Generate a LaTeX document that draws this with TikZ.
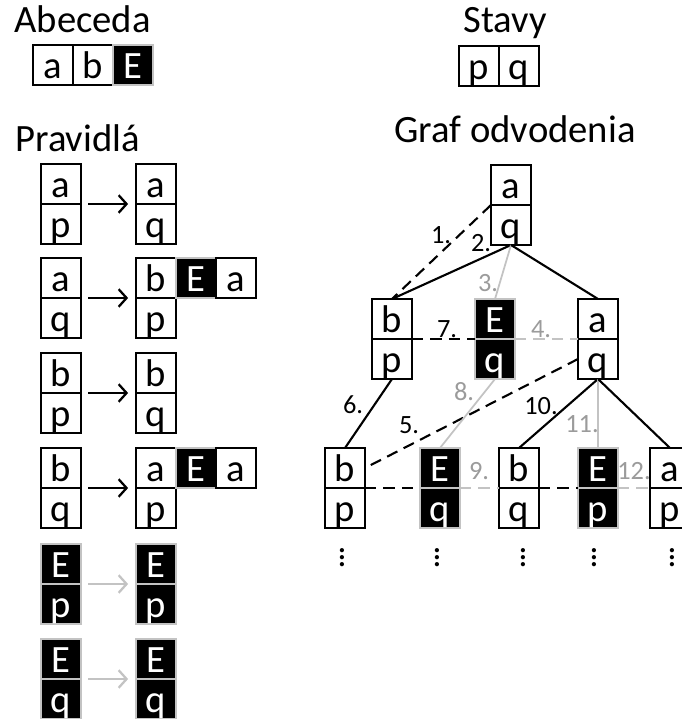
\documentclass[tikz,border=0pt]{standalone}
\usepackage{fontspec}
\setmainfont{Carlito}
\usepackage{tikz}
\usetikzlibrary{arrows,arrows.meta}

\definecolor{lgray}{RGB}{195,195,195}
\definecolor{tgray}{RGB}{155,155,155}

\begin{document}
\begin{tikzpicture}[x=0.02cm,y=-0.02cm]

  %Styles for picture
  \tikzset
  {
  cell/.style={draw, line width=1.2pt, fill=white, inner sep=0pt, outer sep=0pt, minimum width=0.8cm, text height=0.67cm, text depth=0.13cm, font=\fontsize{22}{26}\selectfont},
  ecell/.style={cell, draw=lgray, fill=black, text=white},
  heading/.style={inner sep=0pt, font=\fontsize{22}{26}\selectfont},
  nlabel/.style={inner sep=0pt, font=\fontsize{15}{17}\selectfont},
  glabel/.style={nlabel, text=tgray},
  rulearrow/.style={-{Straight Barb[length=4.5pt,width=10pt]}, line width=1.3pt, shorten <=4pt, shorten >=4.5pt},
  edge/.style={line width=1.2pt},
  grayedge/.style={line width=1pt, draw=lgray},
  dashedge/.style={line width=1.2pt, dash pattern=on 6.5pt off 4pt},
  }

  \useasboundingbox (0,0) rectangle (681,719);

  % Abeceda
  \node[heading, anchor=base west] (abc) at (14,33) {Abeceda};
  \node[cell] (ca) at (53,65) {a};
  \node[cell] (cb) at (93,65) {b};
  \node[ecell] (cE) at (133,65) {E};

  % Stavy
  \node[heading, anchor=base] (stavy) at (505,33) {Stavy};
  \node[cell] (sp) at (479,66) {p};
  \node[cell] (sq) at (519,66) {q};

  % Pravidla
  \node[heading, anchor=base west] (prav) at (15,152) {Pravidlá};

  \node[cell] (r1a) at (61,184) {a};
  \node[cell] (r1b) at (61,224) {p};
  \node[cell] (r1c) at (156,184) {a};
  \node[cell] (r1d) at (156,224) {q};
  \draw[rulearrow] (r1a.south east) -- (r1c.south west);

  \node[cell] (r2a) at (61,278) {a};
  \node[cell] (r2b) at (61,318) {q};
  \node[cell] (r2c) at (156,278) {b};
  \node[cell] (r2d) at (156,318) {p};
  \node[ecell] (r2e) at (196,278) {E};
  \node[cell] (r2f) at (236,278) {a};
  \draw[rulearrow] (r2a.south east) -- (r2c.south west);

  \node[cell] (r3a) at (61,373) {b};
  \node[cell] (r3b) at (61,413) {p};
  \node[cell] (r3c) at (156,373) {b};
  \node[cell] (r3d) at (156,413) {q};
  \draw[rulearrow] (r3a.south east) -- (r3c.south west);

  \node[cell] (r4a) at (61,468) {b};
  \node[cell] (r4b) at (61,508) {q};
  \node[cell] (r4c) at (156,468) {a};
  \node[cell] (r4d) at (156,508) {p};
  \node[ecell] (r4e) at (196,468) {E};
  \node[cell] (r4f) at (236,468) {a};
  \draw[rulearrow] (r4a.south east) -- (r4c.south west);

  \node[ecell] (r5a) at (61,564) {E};
  \node[ecell] (r5b) at (61,604) {p};
  \node[ecell] (r5c) at (156,564) {E};
  \node[ecell] (r5d) at (156,604) {p};
  \draw[rulearrow, lgray] (r5a.south east) -- (r5c.south west);

  \node[ecell] (r6a) at (61,659) {E};
  \node[ecell] (r6b) at (61,699) {q};
  \node[ecell] (r6c) at (156,659) {E};
  \node[ecell] (r6d) at (156,699) {q};
  \draw[rulearrow, lgray] (r6a.south east) -- (r6c.south west);

  % Graf odvodenia
  \node[heading, anchor=base] (graf) at (515,143) {Graf odvodenia};

  \node[cell] (g0t) at (511,185) {a};
  \node[cell] (g0b) at (511,225) {q};

  \node[cell] (g1t) at (392,319) {b};
  \node[cell] (g1b) at (392,359) {p};
  \node[ecell] (g2t) at (495,319) {E};
  \node[ecell] (g2b) at (495,359) {q};
  \node[cell] (g3t) at (598,319) {a};
  \node[cell] (g3b) at (598,359) {q};

  \node[cell] (h1t) at (345,468) {b};
  \node[cell] (h1b) at (345,508) {p};
  \node[ecell] (h2t) at (440,468) {E};
  \node[ecell] (h2b) at (440,508) {q};
  \node[cell] (h3t) at (519,468) {b};
  \node[cell] (h3b) at (519,508) {q};
  \node[ecell] (h4t) at (598,468) {E};
  \node[ecell] (h4b) at (598,508) {p};
  \node[cell] (h5t) at (670,468) {a};
  \node[cell] (h5b) at (670,508) {p};

  % Edges
  \draw[dashedge] (g0t.south west) -- (g1t.north);
  \draw[edge] (g0b.south) -- (g1t.north);
  \draw[grayedge] (g0b.south) -- (g2t.north);
  \draw[edge] (g0b.south) -- (g3t.north);
  \draw[dashedge] (g1t.south east) -- (g2t.south west);
  \draw[dashedge, lgray] (g2t.south east) -- (g3t.south west);
  \draw[dashedge] (g3b.west) -- (h1t.east);
  \draw[edge] (g1b.south) -- (h1t.north);
  \draw[grayedge] (g2b.south) -- (h2t.north);
  \draw[edge] (g3b.south) -- (h3t.north);
  \draw[grayedge] (g3b.south) -- (h4t.north);
  \draw[edge] (g3b.south) -- (h5t.north);
  \draw[dashedge] (h1t.south east) -- (h2t.south west);
  \draw[dashedge, lgray] (h2t.south east) -- (h3t.south west);
  \draw[dashedge] (h3t.south east) -- (h4t.south west);
  \draw[dashedge, lgray] (h4t.south east) -- (h5t.south west);

  % Step numbers
  \node[nlabel] (l1) at (441,235) {1.};
  \node[nlabel] (l2) at (481,243) {2.};
  \node[glabel] (l3) at (488,283) {3.};
  \node[glabel] (l4) at (541,329) {4.};
  \node[nlabel] (l5) at (409,425) {5.};
  \node[nlabel] (l6) at (353,405) {6.};
  \node[nlabel] (l7) at (447,329) {7.};
  \node[glabel] (l8) at (464,392) {8.};
  \node[glabel] (l9) at (479,471) {9.};
  \node[nlabel] (l10) at (541,406) {10.};
  \node[glabel] (l11) at (582,424) {11.};
  \node[glabel] (l12) at (634,471) {12.};

  % Dots below the last level
  \foreach \n/\x in {d1/342, d2/437, d3/523, d4/594, d5/672}
    \node[font=\fontsize{20}{24}\selectfont] (\n) at (\x,552) {$\vdots$};

\end{tikzpicture}
\end{document}
